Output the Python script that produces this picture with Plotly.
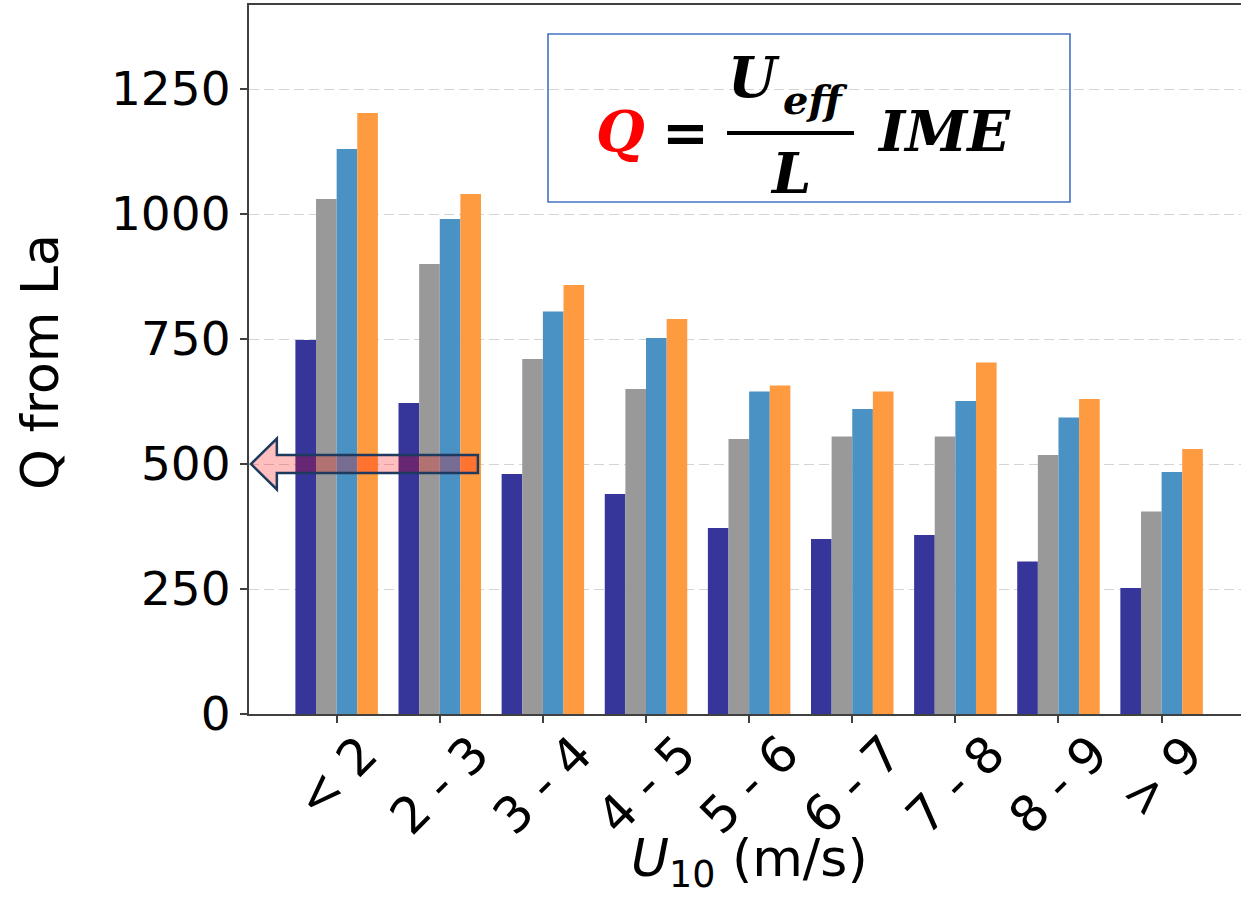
import plotly.graph_objects as go

# Wind-speed bins (m/s) and Q values for the four cases
bins = ["< 2", "2 - 3", "3 - 4", "4 - 5", "5 - 6", "6 - 7", "7 - 8", "8 - 9", "> 9"]
q_navy = [748, 622, 480, 440, 372, 350, 358, 305, 252]
q_gray = [1030, 900, 710, 650, 550, 555, 555, 518, 405]
q_blue = [1130, 990, 805, 752, 645, 610, 626, 593, 484]
q_orange = [1202, 1040, 858, 790, 657, 645, 703, 630, 530]
y_ticks = [0, 250, 500, 750, 1000, 1250]

series = [
    ("case 1", q_navy, "#35359a"),
    ("case 2", q_gray, "#999999"),
    ("case 3", q_blue, "#4a92c4"),
    ("case 4", q_orange, "#fe9a40"),
]

W, H = 1241, 897
L_PX, R_PX, T_PX, B_PX = 249, 1241, 5, 714
Y_MAX = 1418
X_RANGE = [-0.85, 8.77]


def px(x):
    return (x - L_PX) / (R_PX - L_PX)


def py(y):
    return (B_PX - y) / (B_PX - T_PX)


fig = go.Figure()
for name, vals, col in series:
    fig.add_trace(go.Bar(x=bins, y=vals, name=name, marker_color=col,
                         marker_line_width=0))

axis_col = "#404040"
fig.update_layout(
    width=W, height=H,
    margin=dict(l=L_PX, r=W - R_PX, t=T_PX, b=H - B_PX),
    paper_bgcolor="white", plot_bgcolor="white",
    barmode="group", bargap=0.2, bargroupgap=0,
    showlegend=False,
    font=dict(family="DejaVu Sans", color="black"),
)
fig.update_xaxes(
    type="category", range=X_RANGE, showgrid=False,
    showline=True, linecolor=axis_col, linewidth=2, mirror=True,
    ticks="outside", ticklen=7, tickwidth=1.5, tickcolor=axis_col,
    showticklabels=False, zeroline=False,
)
fig.update_yaxes(
    range=[0, Y_MAX], tickvals=y_ticks,
    showline=True, linecolor=axis_col, linewidth=2,
    ticks="outside", ticklen=7, tickwidth=1.5, tickcolor=axis_col,
    tickfont=dict(family="DejaVu Sans", size=47, color="black"),
    showgrid=True, gridcolor="#d4d4d4", gridwidth=1, griddash="10px,5px",
    zeroline=False,
)

annotations = []
# rotated category labels, centred under each tick
for b in bins:
    annotations.append(dict(
        x=b, xref="x", y=py(722), yref="paper",
        text=b.replace("<", "&lt;").replace(">", "&gt;"),
        textangle=-45, showarrow=False, xanchor="center", yanchor="top",
        font=dict(family="DejaVu Sans", size=50, color="black"),
    ))

# axis titles
annotations.append(dict(
    x=px(749), y=py(862), xref="paper", yref="paper",
    text="<i>U</i><sub>10</sub> (m/s)", showarrow=False,
    xanchor="center", yanchor="middle",
    font=dict(family="DejaVu Sans", size=52, color="black"),
))
annotations.append(dict(
    x=px(40), y=py(362), xref="paper", yref="paper",
    text="Q from La", textangle=-90, showarrow=False,
    xanchor="center", yanchor="middle",
    font=dict(family="DejaVu Sans", size=52, color="black"),
))

# formula inside the box
eq_font = "DejaVu Serif"
eq_parts = [
    ("<b><i>Q</i></b>", 620, 131, 56, "#ff0000"),
    ("<b>=</b>", 685, 132, 56, "black"),
    ("<b><i>U</i></b>", 754, 77, 56, "black"),
    ("<b><i>eff</i></b>", 815, 99, 40, "black"),
    ("<b><i>L</i></b>", 790, 173, 56, "black"),
    ("<b><i>IME</i></b>", 944, 131, 56, "black"),
]
for txt, x, y, s, c in eq_parts:
    annotations.append(dict(
        x=px(x), y=py(y), xref="paper", yref="paper", text=txt,
        showarrow=False, xanchor="center", yanchor="middle",
        font=dict(family=eq_font, size=s, color=c),
    ))
fig.update_layout(annotations=annotations)

shapes = [
    # formula frame
    dict(type="rect", xref="paper", yref="paper",
         x0=px(548), x1=px(1070), y0=py(202), y1=py(34),
         line=dict(color="#4472c4", width=1.6), fillcolor="rgba(0,0,0,0)"),
    # fraction bar
    dict(type="line", xref="paper", yref="paper",
         x0=px(727), x1=px(854), y0=py(133), y1=py(133),
         line=dict(color="black", width=4)),
]

# block arrow pointing at Q = 500 on the y axis
arrow_y = 500
tip_x, neck_x, tail_x = X_RANGE[0] + 0.02, -0.58, 1.37
shaft_h, head_h = 18, 51
path = (f"M {tip_x},{arrow_y} L {neck_x},{arrow_y + head_h} "
        f"L {neck_x},{arrow_y + shaft_h} L {tail_x},{arrow_y + shaft_h} "
        f"L {tail_x},{arrow_y - shaft_h} L {neck_x},{arrow_y - shaft_h} "
        f"L {neck_x},{arrow_y - head_h} Z")
shapes.append(dict(type="path", xref="x", yref="y", path=path,
                   fillcolor="rgba(255,0,0,0.25)",
                   line=dict(color="#1f3a5f", width=2.5)))
fig.update_layout(shapes=shapes)

fig.write_html("out.html")
